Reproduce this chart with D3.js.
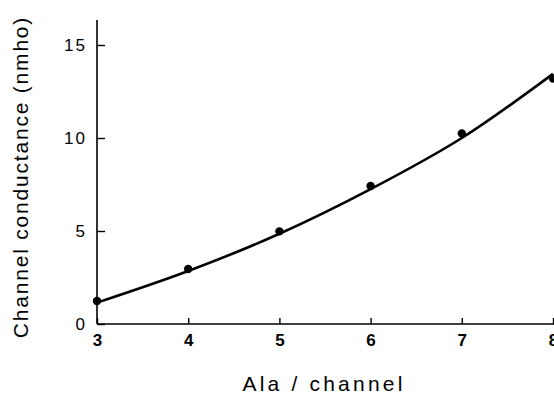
<!DOCTYPE html>
<html><head><meta charset="utf-8">
<script src="https://cdn.jsdelivr.net/npm/d3@7"></script>
<style>body{margin:0;background:#fff}svg{display:block}text{font-family:"Liberation Sans",Arial,sans-serif;fill:#000}</style>
</head><body>
<script>
const alaPerChannel = [3, 4, 5, 6, 7, 8];
const conductance = [1.24, 2.96, 4.98, 7.42, 10.25, 13.2];
const fitConductance = [1.15, 2.85, 4.85, 7.25, 10.0, 13.45];
const xTicks = [3, 4, 5, 6, 7, 8];
const yTicks = [0, 5, 10, 15];

const W = 554, H = 397;
const svg = d3.select("body").append("svg").attr("width", W).attr("height", H);
const x = d3.scaleLinear().domain([3, 8]).range([97, 553]);
const y = d3.scaleLinear().domain([0, 15]).range([324, 45]);

// axes
const gx = svg.append("g").attr("transform", `translate(0,${y(0)})`)
  .call(d3.axisBottom(x).tickValues(xTicks).tickFormat(d3.format("d")).tickSizeInner(-6).tickSizeOuter(0).tickPadding(10));
gx.select(".domain").attr("stroke-width", 1.6).attr("d", `M${x(3)},0H${W + 5}`);
gx.selectAll(".tick line").attr("stroke-width", 1.4);
gx.selectAll(".tick text").attr("font-size", 17).attr("font-weight", "bold").attr("dy", "0.71em");

const gy = svg.append("g").attr("transform", `translate(${x(3)},0)`)
  .call(d3.axisLeft(y).tickValues(yTicks).tickFormat(d3.format("d")).tickSizeInner(-8).tickSizeOuter(0).tickPadding(10));
gy.select(".domain").attr("stroke-width", 1.6).attr("d", `M0,${y(0)}V20`);
gy.selectAll(".tick line").attr("stroke-width", 1.4);
gy.selectAll(".tick text").attr("font-size", 17).attr("letter-spacing", 2);

// fit curve
const line = d3.line().x((d, i) => x(alaPerChannel[i])).y(d => y(d)).curve(d3.curveMonotoneX);
svg.append("path").datum(fitConductance).attr("d", line)
  .attr("fill", "none").attr("stroke", "#000").attr("stroke-width", 2.6);

// points
svg.selectAll("circle.pt").data(conductance).join("circle")
  .attr("cx", (d, i) => x(alaPerChannel[i])).attr("cy", d => y(d)).attr("r", 4.2).attr("fill", "#000");

// labels
svg.append("text").attr("x", 324).attr("y", 391).attr("text-anchor", "middle")
  .attr("font-size", 21).attr("letter-spacing", 3.2).text("Ala / channel");
svg.append("text").attr("transform", "translate(28,177) rotate(-90)").attr("text-anchor", "middle")
  .attr("font-size", 21).attr("letter-spacing", 1.8).text("Channel conductance (nmho)");
</script>
</body></html>
